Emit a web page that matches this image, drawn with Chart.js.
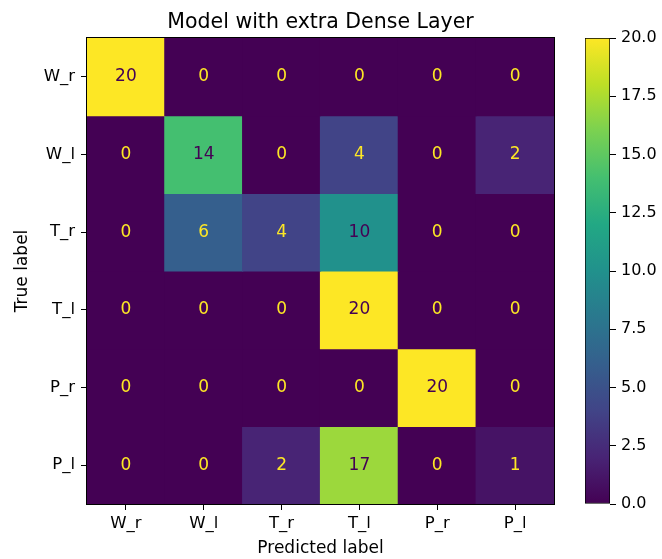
<!DOCTYPE html>
<html>
<head>
<meta charset="utf-8">
<script src="https://cdn.jsdelivr.net/npm/chart.js@4.4.1/dist/chart.umd.min.js"></script>
<style>
  body { margin: 0; background: #fff; }
  #wrap { position: relative; width: 662px; height: 559px; }
  #cm { position: absolute; left: 0; top: 0; }
  #cbar { position: absolute; left: 585px; top: 0; }
</style>
</head>
<body>
<div id="wrap">
  <canvas id="cm" width="662" height="559"></canvas>
  <canvas id="cbar" width="77" height="559"></canvas>
</div>
<script>
// confusion matrix: rows = true label, cols = predicted label
var titleText = 'Model with extra Dense Layer';
var classLabels = ['W_r', 'W_l', 'T_r', 'T_l', 'P_r', 'P_l'];
var rowWr = [20, 0, 0, 0, 0, 0];
var rowWl = [0, 14, 0, 4, 0, 2];
var rowTr = [0, 6, 4, 10, 0, 0];
var rowTl = [0, 0, 0, 20, 0, 0];
var rowPr = [0, 0, 0, 0, 20, 0];
var rowPl = [0, 0, 2, 17, 0, 1];
var matrix = [rowWr, rowWl, rowTr, rowTl, rowPr, rowPl];
var cbarTicks = [0, 2.5, 5, 7.5, 10, 12.5, 15, 17.5, 20];

var FONT = "'DejaVu Sans', sans-serif";
var vmin = 0, vmax = 20;

// viridis, sampled every 0.1
var viridis = ['#440154', '#482475', '#414487', '#355f8d', '#2a788e', '#21918c',
               '#22a884', '#44bf70', '#7ad151', '#bddf26', '#fde725'];
function hex2rgb(h) {
  return [parseInt(h.substr(1, 2), 16), parseInt(h.substr(3, 2), 16), parseInt(h.substr(5, 2), 16)];
}
function cmap(t) {
  t = Math.max(0, Math.min(1, t));
  var p = t * 10, i = Math.min(9, Math.floor(p)), f = p - i;
  var a = hex2rgb(viridis[i]), b = hex2rgb(viridis[i + 1]);
  return 'rgb(' + [0, 1, 2].map(function (k) { return Math.round(a[k] + (b[k] - a[k]) * f); }).join(',') + ')';
}

var datasets = matrix.map(function (row, r) {
  return {
    label: classLabels[r],
    data: row.map(function () { return [r, r + 1]; }),
    counts: row,
    backgroundColor: row.map(function (v) { return cmap((v - vmin) / (vmax - vmin)); }),
    borderWidth: 0,
    inflateAmount: 0.6,
    barPercentage: 1,
    categoryPercentage: 1,
    grouped: false
  };
});

var thresh = (vmax + vmin) / 2;
var cellText = {
  id: 'cellText',
  afterDatasetsDraw: function (chart) {
    var c = chart.ctx;
    c.save();
    c.font = '17px ' + FONT;
    c.textAlign = 'center';
    c.textBaseline = 'middle';
    chart.data.datasets.forEach(function (ds, di) {
      chart.getDatasetMeta(di).data.forEach(function (el, j) {
        var v = ds.counts[j];
        var p = el.getProps(['x', 'y', 'base'], true);
        c.fillStyle = v < thresh ? '#fde725' : '#440154';
        c.fillText(String(v), p.x, (p.y + p.base) / 2);
      });
    });
    c.restore();
  }
};
var frameAndTitle = {
  id: 'frameAndTitle',
  afterDraw: function (chart) {
    var a = chart.chartArea, c = chart.ctx;
    c.save();
    c.strokeStyle = '#000';
    c.lineWidth = 1;
    c.strokeRect(Math.round(a.left) - 0.5, Math.round(a.top) - 0.5, Math.round(a.right - a.left) + 1, Math.round(a.bottom - a.top) + 1);
    c.fillStyle = '#000';
    c.font = '20.5px ' + FONT;
    c.textAlign = 'center';
    c.textBaseline = 'alphabetic';
    c.fillText(titleText, (a.left + a.right) / 2, 28);
    c.restore();
  }
};

new Chart(document.getElementById('cm'), {
  type: 'bar',
  data: { labels: classLabels, datasets: datasets },
  options: {
    responsive: false,
    animation: false,
    layout: { padding: { left: 12, right: 108, top: 38, bottom: 0 } },
    plugins: {
      legend: { display: false },
      tooltip: { enabled: false },
      title: { display: false }
    },
    scales: {
      x: {
        afterFit: function (s) { s.height = 55; },
        grid: { display: true, offset: false, drawOnChartArea: false, drawTicks: true, tickLength: 6, color: '#000' },
        border: { display: false },
        ticks: { color: '#000', font: { family: FONT, size: 16.5 }, padding: 4, maxRotation: 0 },
        title: { display: true, text: 'Predicted label', color: '#000', font: { family: FONT, size: 17 }, padding: 0 }
      },
      y: {
        type: 'linear',
        min: 0,
        max: matrix.length,
        reverse: true,
        afterFit: function (s) { s.width = 75; },
        afterBuildTicks: function (s) {
          s.ticks = classLabels.map(function (l, i) { return { value: i + 0.5 }; });
        },
        grid: { display: true, drawOnChartArea: false, drawTicks: true, tickLength: 6, color: '#000' },
        border: { display: false },
        ticks: {
          color: '#000', font: { family: FONT, size: 16.5 }, padding: 6, autoSkip: false,
          callback: function (v, i) { return classLabels[i]; }
        },
        title: { display: true, text: 'True label', color: '#000', font: { family: FONT, size: 17 }, padding: 0 }
      }
    }
  },
  plugins: [cellText, frameAndTitle]
});

// colorbar
var cbarGradient = function (ctx) {
  var ch = ctx.chart, a = ch.chartArea;
  if (!a) return viridis[0];
  var g = ch.ctx.createLinearGradient(0, a.bottom, 0, a.top);
  viridis.forEach(function (col, i) { g.addColorStop(i / 10, col); });
  return g;
};

new Chart(document.getElementById('cbar'), {
  type: 'bar',
  data: {
    labels: [''],
    datasets: [{
      data: [[vmin, vmax]],
      backgroundColor: cbarGradient,
      borderColor: '#000',
      borderWidth: 1,
      borderSkipped: false,
      barPercentage: 1,
      categoryPercentage: 1
    }]
  },
  options: {
    responsive: false,
    animation: false,
    layout: { padding: { left: 0, right: 0, top: 38, bottom: 55 } },
    plugins: { legend: { display: false }, tooltip: { enabled: false } },
    scales: {
      x: { display: false },
      y: {
        position: 'right',
        min: vmin,
        max: vmax,
        afterFit: function (s) { s.width = 52; },
        afterBuildTicks: function (s) {
          s.ticks = cbarTicks.map(function (v) { return { value: v }; });
        },
        grid: { display: true, drawOnChartArea: false, drawTicks: true, tickLength: 6, color: '#000' },
        border: { display: false },
        ticks: {
          color: '#000', font: { family: FONT, size: 16 }, padding: 5,
          callback: function (v) { return v.toFixed(1); }
        }
      }
    }
  }
});
</script>
</body>
</html>
